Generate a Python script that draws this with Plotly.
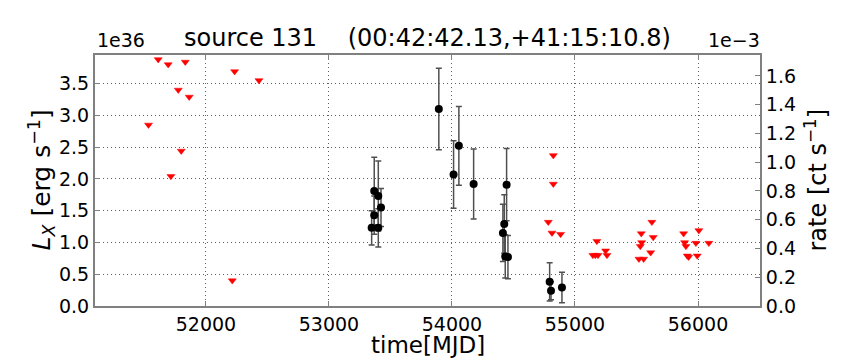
import plotly.graph_objects as go

# detections: time [MJD], L_X [1e36 erg/s], error [1e36 erg/s]
det_mjd = [53347, 53368, 53368, 53401, 53401, 53423, 53893, 54013, 54056, 54176,
           54414, 54425, 54433, 54444, 54455, 54794, 54805, 54894]
det_lx = [1.23, 1.81, 1.43, 1.73, 1.23, 1.55, 3.10, 2.07, 2.52, 1.92,
          1.15, 1.29, 0.78, 1.91, 0.77, 0.38, 0.24, 0.29]
det_err = [0.27, 0.53, 0.30, 0.55, 0.30, 0.30, 0.64, 0.53, 0.62, 0.55,
           0.45, 0.46, 0.34, 0.57, 0.34, 0.30, 0.14, 0.24]

# upper limits: time [MJD], L_X [1e36 erg/s]
ul_mjd = [51533, 51612, 51693, 51715, 51775, 51799, 51832, 51864, 52214, 52233, 52431,
          54783, 54813, 54824, 54824, 54883,
          55145, 55165, 55178, 55187, 55249, 55260,
          55520, 55531, 55539, 55542, 55558, 55615, 55625, 55636,
          55883, 55891, 55902, 55913, 55924, 55983, 55994, 56007, 56088]
ul_lx = [2.85, 3.88, 3.80, 2.04, 3.40, 2.44, 3.84, 3.29, 0.40, 3.69, 3.55,
         1.32, 1.15, 2.37, 1.92, 1.13,
         0.80, 0.80, 1.02, 0.80, 0.87, 0.80,
         0.74, 0.94, 1.14, 1.00, 0.74, 0.84, 1.32, 1.08,
         1.14, 1.00, 0.94, 0.79, 0.77, 0.99, 0.79, 1.19, 0.99]

left_ticks = [0.0, 0.5, 1.0, 1.5, 2.0, 2.5, 3.0, 3.5]
right_ticks = [0.0, 0.2, 0.4, 0.6, 0.8, 1.0, 1.2, 1.4, 1.6]
x_ticks = [52000, 53000, 54000, 55000, 56000]

fnt = "DejaVu Sans"
axcol = "#808080"
gridcol = "#606060"

fig = go.Figure()

fig.add_trace(go.Scatter(
    x=ul_mjd, y=ul_lx, mode="markers",
    marker=dict(symbol="triangle-down", color="red", size=7,
                line=dict(color="red", width=0.5)),
    showlegend=False))

fig.add_trace(go.Scatter(
    x=det_mjd, y=det_lx, mode="markers",
    marker=dict(symbol="circle", color="black", size=8),
    error_y=dict(type="data", array=det_err, color="#505050",
                 thickness=1.5, width=3),
    showlegend=False))

# invisible trace so the rate axis is drawn
fig.add_trace(go.Scatter(x=[det_mjd[0]], y=[0], yaxis="y2", mode="markers",
                         marker=dict(opacity=0), showlegend=False, hoverinfo="skip"))

fig.update_layout(
    width=864, height=360,
    margin=dict(l=95, r=104, t=55, b=54),
    plot_bgcolor="white", paper_bgcolor="white",
    font=dict(family=fnt, size=19, color="black"),
    xaxis=dict(
        range=[51098, 56504], automargin=False,
        tickvals=x_ticks, ticktext=[str(t) for t in x_ticks],
        showgrid=True, gridcolor=gridcol, griddash="1px,3px", gridwidth=1,
        ticks="inside", ticklen=5, tickcolor=axcol,
        showline=True, linecolor=axcol, linewidth=2, mirror="ticks",
        zeroline=False,
    ),
    yaxis=dict(
        range=[0, 3.95], automargin=False,
        tickvals=left_ticks, ticktext=["%.1f" % t for t in left_ticks],
        showgrid=True, gridcolor=gridcol, griddash="1px,3px", gridwidth=1,
        ticks="inside", ticklen=5, tickcolor=axcol,
        showline=True, linecolor=axcol, linewidth=2,
        zeroline=False,
    ),
    yaxis2=dict(
        overlaying="y", side="right", automargin=False,
        range=[0, 1.746],
        tickvals=right_ticks, ticktext=["%.1f" % t for t in right_ticks],
        showgrid=False, zeroline=False,
        ticks="inside", ticklen=5, tickcolor=axcol,
        showline=True, linecolor=axcol, linewidth=2,
    ),
    annotations=[
        dict(text="source 131    (00:42:42.13,+41:15:10.8)",
             xref="paper", yref="paper", x=0.5, y=1.0, yshift=17,
             xanchor="center", yanchor="middle", showarrow=False,
             font=dict(size=24)),
        dict(text="1e36", xref="paper", yref="paper", x=0, y=1.0,
             xanchor="left", yanchor="middle", showarrow=False,
             font=dict(size=19), yshift=15),
        dict(text="1e−3", xref="paper", yref="paper", x=1, y=1.0,
             xanchor="right", yanchor="middle", showarrow=False,
             font=dict(size=19), yshift=15, xshift=2),
        dict(text="time[MJD]", xref="paper", yref="paper", x=0.5, y=0,
             xanchor="center", yanchor="middle", showarrow=False,
             font=dict(size=23), yshift=-39),
        dict(text="<i>L</i><sub><i>X</i></sub> [erg s<sup>−1</sup>]",
             xref="paper", yref="paper", x=0, y=0.5, textangle=-90,
             xanchor="center", yanchor="middle", showarrow=False,
             font=dict(size=25), xshift=-54),
        dict(text="rate [ct s<sup>−1</sup>]",
             xref="paper", yref="paper", x=1, y=0.5, textangle=-90,
             xanchor="center", yanchor="middle", showarrow=False,
             font=dict(size=24), xshift=55),
    ],
)

# drop the default page margin so the figure fills the window
fig.write_html("out.html", config={"displayModeBar": False},
               post_script="document.body.style.margin='0';")
